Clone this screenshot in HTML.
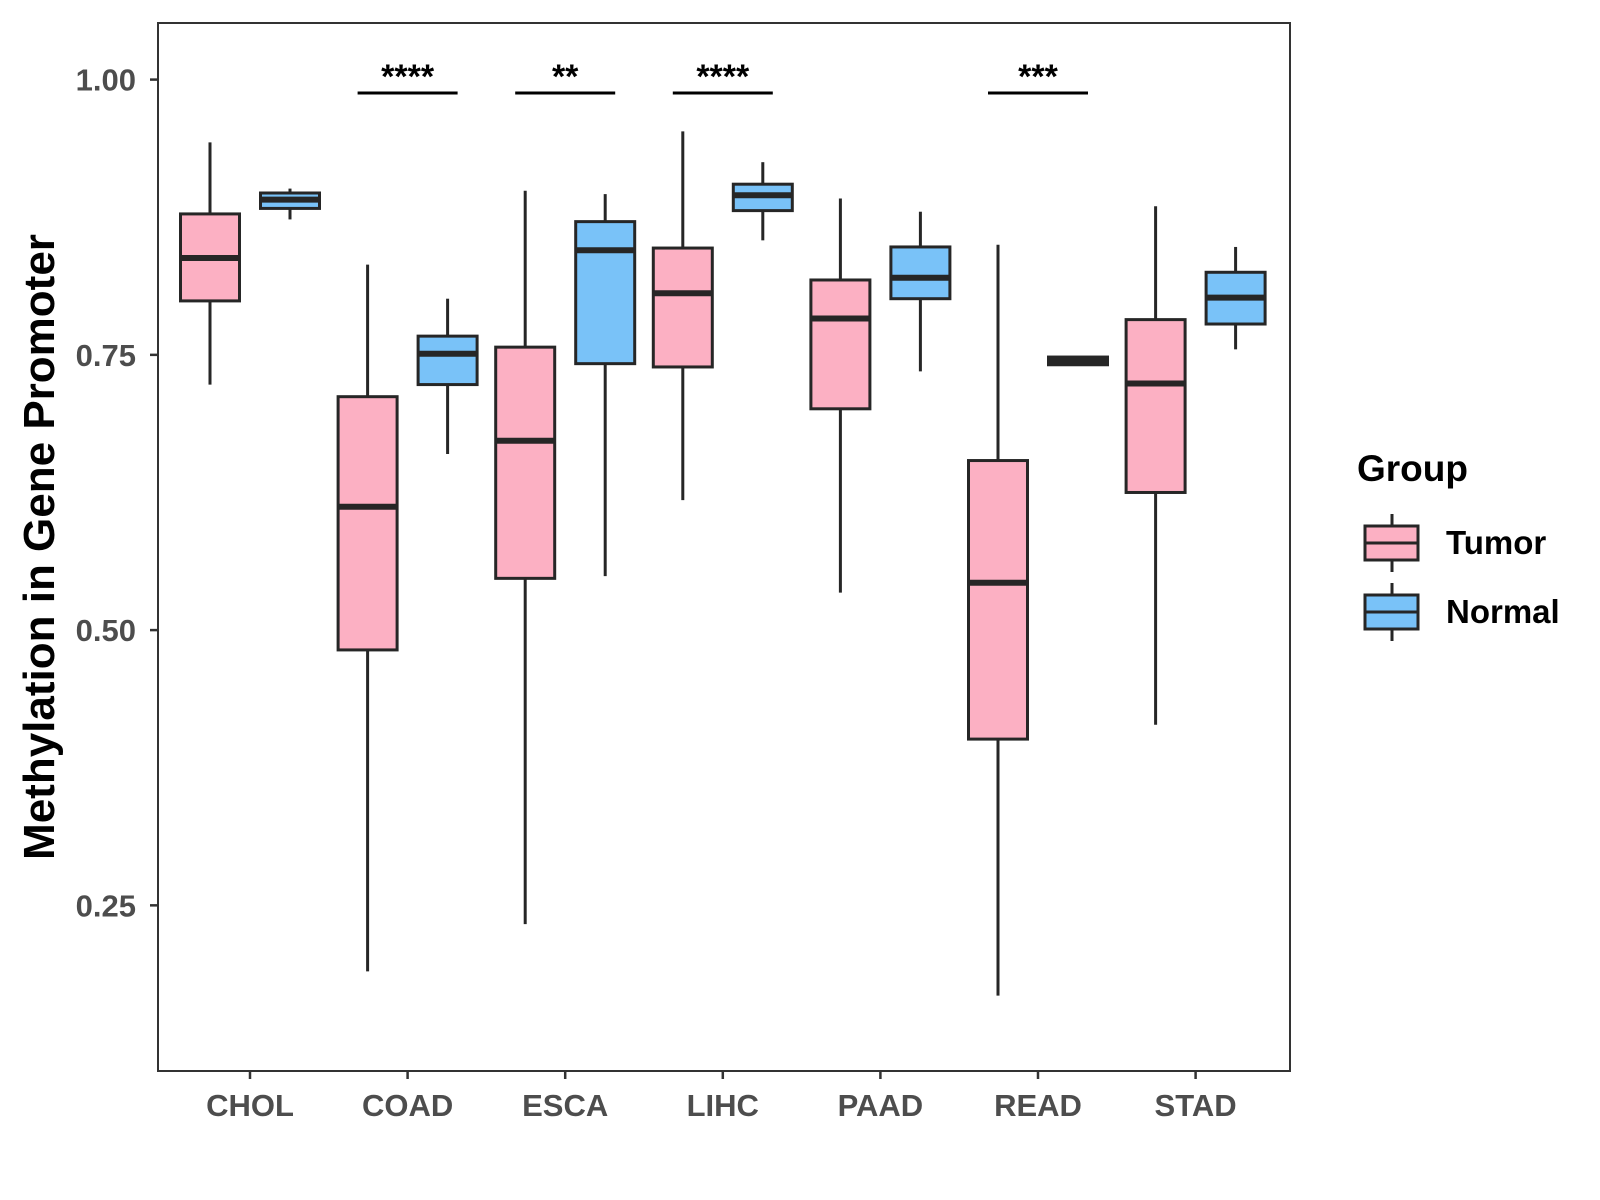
<!DOCTYPE html>
<html><head><meta charset="utf-8"><style>
html,body{margin:0;padding:0;background:#fff;}
svg{display:block;font-family:"Liberation Sans",sans-serif;}
</style></head><body>
<svg id="chart" width="1600" height="1200" xmlns="http://www.w3.org/2000/svg"></svg>
<script>
const categories = ["CHOL","COAD","ESCA","LIHC","PAAD","READ","STAD"];
const tumorStats = [
 [0.723,0.799,0.838,0.878,0.943],
 [0.190,0.482,0.612,0.712,0.832],
 [0.233,0.547,0.672,0.757,0.899],
 [0.618,0.739,0.806,0.847,0.953],
 [0.534,0.701,0.783,0.818,0.892],
 [0.168,0.401,0.543,0.654,0.850],
 [0.414,0.625,0.724,0.782,0.885]];
const normalStats = [
 [0.873,0.883,0.891,0.897,0.901],
 [0.660,0.723,0.751,0.767,0.801],
 [0.549,0.742,0.845,0.871,0.896],
 [0.854,0.881,0.895,0.905,0.925],
 [0.735,0.801,0.820,0.848,0.880],
 [0.741,0.741,0.744,0.748,0.748],
 [0.755,0.778,0.802,0.825,0.848]];
const sigLabels = ["","****","**","****","","***",""];
const yTicks = [0.25,0.50,0.75,1.00];
const yTickLabels = ["0.25","0.50","0.75","1.00"];

const svg = document.getElementById('chart');
const NS = "http://www.w3.org/2000/svg";
const L=158,T=23,R=1290,B=1071;
const step=157.6, x0=250;
function xs(i){return x0+i*step;}
function ys(v){return 79.6+(1-v)*1101;}
function mk(tag,attrs,parent){const e=document.createElementNS(NS,tag);for(const k in attrs)e.setAttribute(k,attrs[k]);(parent||svg).appendChild(e);return e;}

const panel=mk('rect',{x:L,y:T,width:R-L,height:B-T,fill:'#fff',stroke:'#333',"stroke-width":2});



yTicks.forEach((v,i)=>{
  const t=mk('line',{x1:L-8,x2:L,y1:ys(v),y2:ys(v),stroke:'#333',"stroke-width":2.5});
  
  
  const tx=mk('text',{x:L-22,y:ys(v)+11,"text-anchor":'end',"font-size":31,"font-weight":'bold',fill:'#4d4d4d'});
  tx.textContent=yTickLabels[i];
  
  
});
categories.forEach((c,i)=>{
  const t=mk('line',{x1:xs(i),x2:xs(i),y1:B,y2:B+8,stroke:'#333',"stroke-width":2.5});
  
  
  const tx=mk('text',{x:xs(i),y:1116,"text-anchor":'middle',"font-size":31,"font-weight":'bold',fill:'#4d4d4d'});
  tx.textContent=c;
  
  
});

function drawBox(cx,s,fill,name){
  const g=mk('g',{});
  
  
  const w=59;
  mk('line',{x1:cx,x2:cx,y1:ys(s[4]),y2:ys(s[3]),stroke:'#262626',"stroke-width":3},g);
  mk('line',{x1:cx,x2:cx,y1:ys(s[1]),y2:ys(s[0]),stroke:'#262626',"stroke-width":3},g);
  mk('rect',{x:cx-w/2,y:ys(s[3]),width:w,height:Math.max(ys(s[1])-ys(s[3]),1),fill:fill,stroke:'#262626',"stroke-width":3},g);
  mk('line',{x1:cx-w/2,x2:cx+w/2,y1:ys(s[2]),y2:ys(s[2]),stroke:'#262626',"stroke-width":6},g);
}
categories.forEach((c,i)=>{
  drawBox(xs(i)-40,tumorStats[i],'#FCB0C3','tumor-box-'+c.toLowerCase());
  drawBox(xs(i)+40,normalStats[i],'#79C2F8','normal-box-'+c.toLowerCase());
  if(sigLabels[i]){
    const l=mk('line',{x1:xs(i)-50,x2:xs(i)+50,y1:93,y2:93,stroke:'#000',"stroke-width":3});
    
    
    const t=mk('text',{x:xs(i),y:88,"text-anchor":'middle',"font-size":34,"font-weight":'bold',fill:'#000'});
    t.textContent=sigLabels[i];
    
    
  }
});

const yt=mk('text',{x:0,y:0,transform:'translate(54,547) rotate(-90)',"text-anchor":'middle',"font-size":44,"font-weight":'bold',fill:'#000'});
yt.textContent='Methylation in Gene Promoter';



const lt=mk('text',{x:1357,y:481,"font-size":37,"font-weight":'bold',fill:'#000'});
lt.textContent='Group';


[['Tumor','#FCB0C3',543],['Normal','#79C2F8',612]].forEach(([n,f,cy])=>{
  const g=mk('g',{});
  
  
  mk('line',{x1:1392,x2:1392,y1:cy-29,y2:cy+29,stroke:'#262626',"stroke-width":3},g);
  mk('rect',{x:1365,y:cy-17,width:53,height:34,fill:f,stroke:'#262626',"stroke-width":3},g);
  mk('line',{x1:1365,x2:1418,y1:cy,y2:cy,stroke:'#262626',"stroke-width":3},g);
  const t=mk('text',{x:1446,y:cy+11,"font-size":33,"font-weight":'bold',fill:'#000'},g);
  t.textContent=n;
});
</script>
</body></html>
